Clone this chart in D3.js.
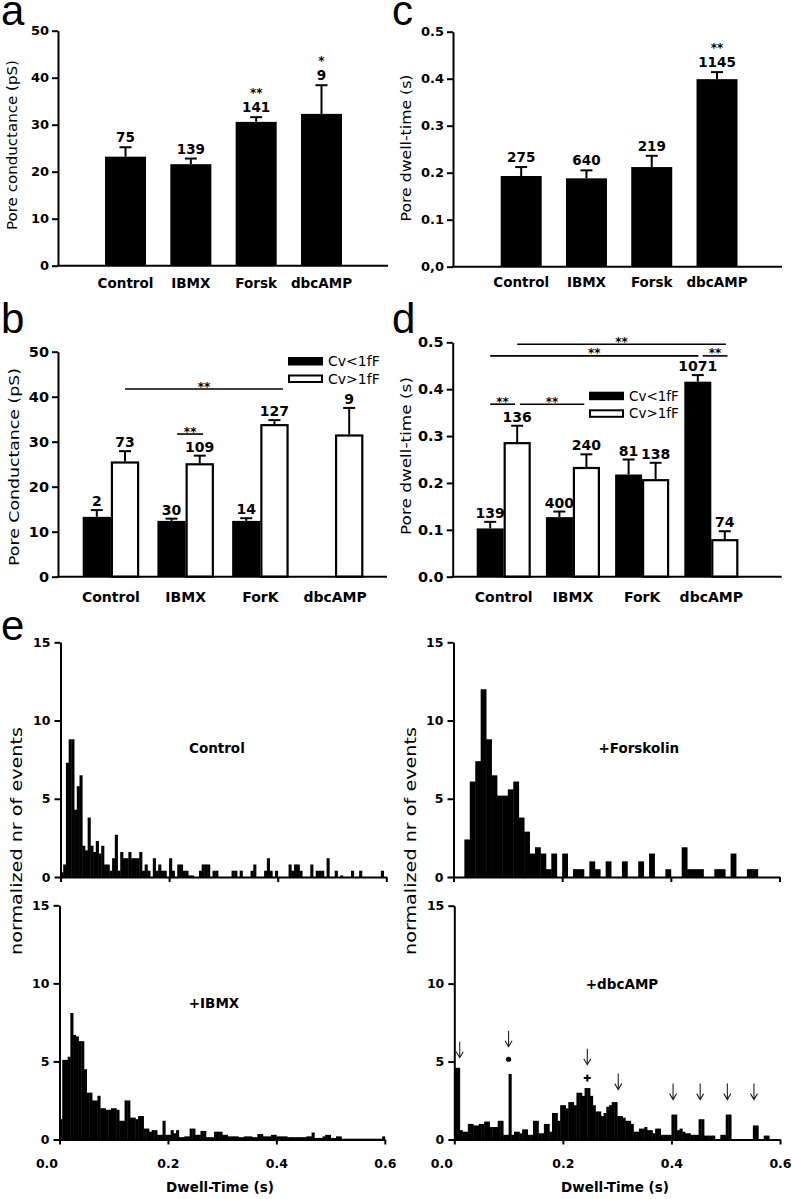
<!DOCTYPE html>
<html><head><meta charset="utf-8">
<script src="https://cdn.jsdelivr.net/npm/d3@7"></script>
<style>
body{margin:0;background:#fff}
svg{display:block}
</style></head><body>
<svg id="fig" width="792" height="1199"></svg>
<script>
// ---------------- DATA ----------------
const catsA = ["Control","IBMX","Forsk","dbcAMP"];
const condMean = [23.2, 21.6, 30.6, 32.3];
const condErrTop = [25.2, 22.8, 31.6, 38.4];
const condN = ["75","139","141","9"];
const condSig = ["","","**","*"];
const ticksA = [0,10,20,30,40,50];
const tickLabA = ["0","10","20","30","40","50"];

const dwellMean = [0.193, 0.188, 0.212, 0.399];
const dwellErrTop = [0.212, 0.205, 0.236, 0.414];
const dwellN = ["275","640","219","1145"];
const dwellSig = ["","","","**"];
const ticksC = [0,0.1,0.2,0.3,0.4,0.5];
const tickLabC = ["0,0","0.1","0.2","0.3","0.4","0.5"];

const catsB = ["Control","IBMX","ForK","dbcAMP"];
const series = ["Cv<1fF","Cv>1fF"];
const condSmall = [13.3, 12.4, 12.4, null];
const condSmallErrTop = [14.8, 12.9, 13.0, null];
const condSmallN = ["2","30","14",""];
const condLarge = [25.6, 25.2, 33.9, 31.6];
const condLargeErrTop = [27.9, 26.9, 34.8, 37.5];
const condLargeN = ["73","109","127","9"];
const sigB = [
  {g1:"Control", f1:0.75, g2:"ForK", f2:0.9, y:41.7},
  {g1:"IBMX", f1:0.35, g2:"IBMX", f2:0.81, y:31.7}
];
const ticksB = [0,10,20,30,40,50];
const tickLabB = ["0","10","20","30","40","50"];

const dwellSmall = [0.103, 0.127, 0.218, 0.416];
const dwellSmallErrTop = [0.117, 0.139, 0.250, 0.430];
const dwellSmallN = ["139","400","81","1071"];
const dwellLarge = [0.287, 0.234, 0.208, 0.080];
const dwellLargeErrTop = [0.322, 0.261, 0.243, 0.097];
const dwellLargeN = ["136","240","138","74"];
const sigD = [
  {g1:"Control", f1:0.75, g2:"dbcAMP", f2:0.77, y:0.496},
  {g1:"Control", f1:0.25, g2:"dbcAMP", f2:0.26, y:0.471},
  {g1:"dbcAMP", f1:0.34, g2:"dbcAMP", f2:0.80, y:0.471},
  {g1:"Control", f1:0.25, g2:"Control", f2:0.71, y:0.368},
  {g1:"Control", f1:0.80, g2:"IBMX", f2:0.71, y:0.368}
];
const ticksD = [0,0.1,0.2,0.3,0.4,0.5];
const tickLabD = ["0.0","0.1","0.2","0.3","0.4","0.5"];

// histograms (normalized nr of events per dwell-time bin)
const histControl = [0.3,0.8,7.3,8.8,8.8,4.3,5.8,6.5,2.0,1.7,
 3.8,2.0,1.6,2.3,1.5,2.0,0.8,0.8,0.4,1.2,
 2.7,0.4,1.6,1.2,1.2,1.6,1.2,1.2,1.2,1.6,
 0.4,0.8,0.4,0,1.2,0.4,0.8,0.4,0.4,0,
 1.2,0.4,0,0.8,0.8,0.4,0.4,0.1,0.1,0,
 0,0.4,0.8,0.8,0.8,0,0.4,0.4,0,0,
 0,0,0,0.4,0.4,0,0.4,0,0,0,
 0.4,0.8,0,0,0,0.4,1.2,0.4,0,0.4,
 0,0,0,0,0.8,0.4,0.8,0.8,0.4,0,
 0,0,0.8,0,0.4,0.4,0.4,0,1.2,0,
 0,0.4,0,0.1,0,0,0,0.4,0,0,
 0.4,0,0,0,0,0,0,0,0.4,0];
const histForskolin = [0,0,2.4,6.1,7.4,12.0,8.8,6.5,5.2,5.2,
 5.6,6.1,3.8,2.9,1.5,1.9,1.5,0.5,1.5,0,
 1.5,0,0.5,0.5,0,1.0,0.5,0,1.0,0,
 0,1.0,0,0,1.0,0,1.5,0,0,0.5,
 0,0,1.9,0.5,0.5,0.5,0,0,0.5,0.5,
 0,1.5,0,0,0.5,0.5,0,0,0,0];
const histIBMX = [1.3,5.1,5.1,5.3,8.1,6.7,6.6,6.3,6.3,4.5,
 3.0,3.0,2.5,2.5,2.8,2.0,2.0,1.9,1.9,2.0,
 2.0,1.9,1.2,1.2,2.5,2.5,1.4,1.4,1.3,1.5,
 1.5,0.7,0.7,0.5,0.6,0.6,0.3,0.3,1.2,0.3,
 0.3,0.6,0.4,0.6,0.15,0.15,0.2,0.2,0.7,0.7,
 0.3,0.3,0.55,0.55,0.15,0.15,0.15,0.5,0.5,0.5,
 0.3,0.3,0.2,0.2,0.2,0.2,0.15,0.15,0.2,0.2,
 0.2,0.15,0.15,0.35,0.35,0.2,0.2,0.2,0.3,0.3,
 0.2,0.2,0.2,0.2,0.15,0.15,0.15,0.15,0.15,0.15,
 0.15,0.2,0.2,0.45,0.1,0.1,0.1,0.2,0.3,0.3,
 0.1,0.1,0.2,0.2,0.05,0.05,0.05,0.05,0.05,0.05,
 0.05,0.05,0.05,0.05,0.05,0.05,0.05,0.05,0.05,0.2];
const histDbcAMP = [4.6,4.6,0.6,0.5,0.5,1.0,1.0,0.9,0.9,1.0,
 1.0,1.15,1.15,0.8,0.8,0.8,1.2,1.2,0.3,0.3,
 4.2,0.3,0.5,0.5,0.4,0.65,0.65,0.3,0.3,1.2,
 1.2,0.4,0.4,1.0,1.0,0.5,1.7,1.7,1.2,2.2,
 2.2,2.0,2.4,2.4,2.2,3.0,3.0,2.8,3.3,3.3,
 2.8,2.2,1.8,1.8,1.5,1.7,2.1,2.2,2.4,2.4,
 1.5,1.5,1.4,1.2,1.2,1.0,0.5,0.5,0.7,0.7,
 0.8,0.6,0.6,0.4,0.7,0.7,0.3,0.3,0.3,0.3,
 1.6,1.6,0.6,0.7,0.5,0.4,0.4,0.3,0.3,0.3,
 1.3,1.3,0.25,0.25,0.25,0.25,0,0,0.3,0.3,
 1.6,1.6,0,0,0,0,0,0,0,0,
 0.9,0.9,0,0,0.25,0.25,0,0,0,0];
const histYTicks = [0,5,10,15];
const histXTicks = [0,0.2,0.4,0.6];
const histXLabels = ["0.0","0.2","0.4","0.6"];
// dbcAMP arrows: dwell-time position and arrow tip height (events)
const arrowX = [0.01, 0.1, 0.245, 0.302, 0.403, 0.453, 0.503, 0.552];
const arrowTip = [5.25, 5.95, 4.8, 3.2, 2.56, 2.56, 2.56, 2.56];

// ---------------- DRAWING ----------------
const svg = d3.select("#fig");
const FONT = "DejaVu Sans";

function txt(x, y, s, o) {
  o = o || {};
  return svg.append("text").attr("x", x).attr("y", y).text(s)
    .attr("text-anchor", o.anchor || "middle")
    .style("font-family", o.family || FONT)
    .style("font-weight", o.weight || "bold")
    .style("font-size", (o.size || 13.5) + "px")
    .attr("fill", "#000");
}
function vtitle(x, y, s, size, len) {
  svg.append("text").attr("transform", `translate(${x},${y}) rotate(-90)`)
    .attr("text-anchor", "middle").text(s)
    .style("font-family", FONT).style("font-size", size + "px")
    .attr("textLength", len).attr("lengthAdjust", "spacingAndGlyphs")
    .attr("fill", "#000");
}
function panelLetter(x, y, s) {
  txt(x, y, s, {anchor: "start", family: "Liberation Sans", weight: "normal", size: 42});
}
function yAxis(x, scale, ticks, labels, fs, ts, pad) {
  const ax = d3.axisLeft(scale).tickValues(ticks).tickFormat((d, i) => labels[i])
    .tickSize(ts).tickSizeOuter(0).tickPadding(pad);
  const g = svg.append("g").attr("transform", `translate(${x},0)`).call(ax);
  g.select(".domain").attr("stroke", "#000").attr("stroke-width", 2);
  g.selectAll(".tick line").attr("stroke", "#000").attr("stroke-width", 2);
  g.selectAll(".tick text").attr("fill", "#000").style("font-family", FONT)
    .style("font-weight", "bold").style("font-size", fs + "px");
  return g;
}
function hline(x1, x2, y, w) {
  svg.append("line").attr("x1", x1).attr("x2", x2).attr("y1", y).attr("y2", y)
    .attr("stroke", "#000").attr("stroke-width", w || 2);
}
function errBar(cx, y0, y1) {
  svg.append("line").attr("x1", cx).attr("x2", cx).attr("y1", y0).attr("y2", y1)
    .attr("stroke", "#000").attr("stroke-width", 2);
  hline(cx - 6, cx + 6, y1, 2);
}
function bar(x, w, y0, y1, white) {
  if (white) {
    svg.append("rect").attr("x", x + 1).attr("y", y1 + 1).attr("width", w - 2)
      .attr("height", y0 - y1 - 1).attr("fill", "#fff").attr("stroke", "#000").attr("stroke-width", 2.2);
  } else {
    svg.append("rect").attr("x", x).attr("y", y1).attr("width", w)
      .attr("height", y0 - y1).attr("fill", "#000");
  }
}

// ---- simple bar chart (a, c)
function simpleBars(o) {
  const y = d3.scaleLinear().domain(o.domain).range(o.yRange);
  const x = d3.scaleBand().domain(o.cats).range(o.xRange).paddingInner(0.372).paddingOuter(0);
  const bw = x.bandwidth();
  o.cats.forEach((c, i) => {
    const cx = x(c) + bw / 2;
    errBar(cx, y(o.mean[i]), y(o.errTop[i]));
    bar(x(c), bw, y(0), y(o.mean[i]), false);
    const ly = y(o.errTop[i]) - 5;
    txt(cx, ly, o.n[i], {size: 13.5});
    if (o.sig[i]) txt(cx, ly - o.sigOff, o.sig[i], {size: 12});
    txt(cx, o.catY, c, {size: 13.5});
  });
  hline(o.axisX - 1, o.axisEnd, y(0), 2);
  yAxis(o.axisX, y, o.ticks, o.tickLabels, 13, 6, 3);
}
simpleBars({cats: catsA, mean: condMean, errTop: condErrTop, n: condN, sig: condSig,
  domain: [0, 50], yRange: [265.7, 30.7], xRange: [105, 342], axisX: 58, axisEnd: 388,
  ticks: ticksA, tickLabels: tickLabA, catY: 287.5, sigOff: 15});
simpleBars({cats: catsA, mean: dwellMean, errTop: dwellErrTop, n: dwellN, sig: dwellSig,
  domain: [0, 0.5], yRange: [266.7, 31.7], xRange: [500.7, 737.5], axisX: 453, axisEnd: 782,
  ticks: ticksC, tickLabels: tickLabC, catY: 287, sigOff: 15});

// ---- grouped bar chart (b, d)
function groupBars(o) {
  const y = d3.scaleLinear().domain(o.domain).range(o.yRange);
  const x = d3.scaleBand().domain(o.cats).range(o.xRange).paddingInner(o.pad).paddingOuter(0);
  const xs = d3.scaleBand().domain(series).range([0, x.bandwidth()]).padding(0);
  const bw = xs.bandwidth();
  o.cats.forEach((c, i) => {
    [[o.small, o.smallErr, o.smallN, false, series[0]], [o.large, o.largeErr, o.largeN, true, series[1]]]
      .forEach(([m, e, n, white, s]) => {
        if (m[i] == null) return;
        const bx = x(c) + xs(s), cx = bx + bw / 2;
        errBar(cx, y(m[i]), y(e[i]));
        bar(bx, bw, y(0), y(m[i]), white);
        txt(cx, y(e[i]) - 4, n[i], {size: 14});
      });
    txt(x(c) + x.bandwidth() / 2, o.catY, c, {size: 14});
  });
  o.sig.forEach(s => {
    const x1 = x(s.g1) + s.f1 * x.bandwidth(), x2 = x(s.g2) + s.f2 * x.bandwidth();
    hline(x1, x2, y(s.y), 1.6);
    txt((x1 + x2) / 2, y(s.y) + 1.5, "**", {size: 12});
  });
  hline(o.axisX - 1, o.axisEnd, y(0), 2);
  yAxis(o.axisX, y, o.ticks, o.tickLabels, 14.5, 6, 3);
  o.legend.forEach((l, k) => {
    const ly = o.legY[k];
    if (k === 0) svg.append("rect").attr("x", o.legX).attr("y", ly).attr("width", 35).attr("height", 8.5).attr("fill", "#000");
    else svg.append("rect").attr("x", o.legX + 1).attr("y", ly + 1).attr("width", 33).attr("height", 6.5)
      .attr("fill", "#fff").attr("stroke", "#000").attr("stroke-width", 2);
    txt(o.legX + 40, ly + 9, l, {anchor: "start", weight: "normal", size: o.legSize});
  });
}
groupBars({cats: catsB, small: condSmall, smallErr: condSmallErrTop, smallN: condSmallN,
  large: condLarge, largeErr: condLargeErrTop, largeN: condLargeN, sig: sigB,
  domain: [0, 50], yRange: [576.7, 351.7], xRange: [82.7, 363.3], pad: 0.245,
  axisX: 58, axisEnd: 387, ticks: ticksB, tickLabels: tickLabB, catY: 601.5,
  legend: series, legX: 288, legY: [357, 374.5], legSize: 14});
groupBars({cats: catsB, small: dwellSmall, smallErr: dwellSmallErrTop, smallN: dwellSmallN,
  large: dwellLarge, largeErr: dwellLargeErrTop, largeN: dwellLargeN, sig: sigD,
  domain: [0, 0.5], yRange: [576.7, 342.3], xRange: [476.7, 738.3], pad: 0.22,
  axisX: 452.7, axisEnd: 781.7, ticks: ticksD, tickLabels: tickLabD, catY: 601.5,
  legend: series, legX: 589, legY: [391.7, 409.3], legSize: 13.5});

// ---- histograms
function hist(o) {
  const x = d3.scaleLinear().domain([0, 0.6]).range(o.xRange);
  const y = d3.scaleLinear().domain([0, 15]).range(o.yRange);
  const g = svg.append("g");
  o.data.forEach((v, i) => {
    if (!(v > 0)) return;
    const x0 = x(i * o.bw), x1 = x((i + 1) * o.bw);
    g.append("rect").attr("x", x0).attr("y", y(v)).attr("width", x1 - x0 + 0.4)
      .attr("height", y(0) - y(v)).attr("fill", "#000");
  });
  const ax = d3.axisBottom(x).tickValues(histXTicks)
    .tickFormat((d, i) => o.xLabels ? histXLabels[i] : "")
    .tickSize(5).tickSizeOuter(0).tickPadding(15);
  const gx = svg.append("g").attr("transform", `translate(0,${y(0)})`).call(ax);
  gx.select(".domain").attr("stroke", "#000").attr("stroke-width", 2);
  gx.selectAll(".tick line").attr("stroke", "#000").attr("stroke-width", 2);
  gx.selectAll(".tick text").attr("fill", "#000").style("font-family", FONT)
    .style("font-weight", "bold").style("font-size", "12.5px");
  gx.selectAll(".tick text").filter(d => d === 0).attr("dx", -13);
  yAxis(o.xRange[0], y, histYTicks, histYTicks.map(String), 12.5, 6, 4);
  txt(x(o.lx), y(o.ly), o.label, {size: 13.5});
  if (o.xLabels) txt(x(0.296), 1192, "Dwell-Time (s)", {size: 13.5});
  return {x, y};
}
hist({data: histControl, bw: 0.005, xRange: [60.5, 386.3], yRange: [877, 642.3], label: "Control", lx: 0.288, ly: 7.9});
hist({data: histForskolin, bw: 0.01, xRange: [453.5, 779.5], yRange: [877, 642.3], label: "+Forskolin", lx: 0.341, ly: 7.9});
hist({data: histIBMX, bw: 0.005, xRange: [59.5, 384.8], yRange: [1139.5, 905.3], label: "+IBMX", lx: 0.285, ly: 8.45, xLabels: true});
const hd = hist({data: histDbcAMP, bw: 0.005, xRange: [454.3, 780], yRange: [1139.5, 905.7], label: "+dbcAMP", lx: 0.309, ly: 9.67, xLabels: true});

// arrows and markers on dbcAMP histogram
arrowX.forEach((v, i) => {
  const ax = hd.x(v), yt = hd.y(arrowTip[i]), yb = yt - 16;
  svg.append("path").attr("d", `M${ax},${yb}L${ax},${yt}M${ax - 3.5},${yt - 6}L${ax},${yt}L${ax + 3.5},${yt - 6}`)
    .attr("fill", "none").attr("stroke", "#222").attr("stroke-width", 1.1);
});
svg.append("circle").attr("cx", hd.x(arrowX[1])).attr("cy", hd.y(5.15)).attr("r", 2.6).attr("fill", "#000");
{
  const px = hd.x(arrowX[2]), py = hd.y(3.95);
  svg.append("path").attr("d", `M${px - 3.5},${py}L${px + 3.5},${py}M${px},${py - 3.5}L${px},${py + 3.5}`)
    .attr("stroke", "#000").attr("stroke-width", 2);
}

// titles and panel letters
vtitle(17, 145, "Pore conductance (pS)", 13.5, 170);
vtitle(410.5, 148, "Pore dwell-time (s)", 13.5, 147);
vtitle(18.5, 467, "Pore Conductance (pS)", 14.5, 198);
vtitle(411, 456, "Pore dwell-time (s)", 14.5, 158);
vtitle(21.5, 841, "normalized nr of events", 15, 228);
vtitle(415.5, 841, "normalized nr of events", 15, 228);
panelLetter(1, 25, "a");
panelLetter(392, 25, "c");
panelLetter(1, 333, "b");
panelLetter(392, 333, "d");
panelLetter(1, 640, "e");
</script>
</body></html>
